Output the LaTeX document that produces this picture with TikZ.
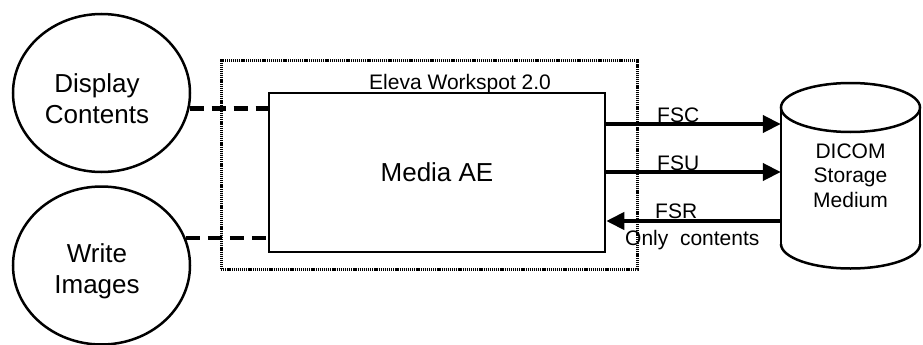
\documentclass[tikz,border=0pt]{standalone}
\usepackage{fontspec}
\setmainfont{Liberation Sans}
\usetikzlibrary{shapes.geometric,arrows.meta}
\begin{document}
\begin{tikzpicture}[x=1pt,y=-1pt,
  big/.style={font=\fontsize{26}{31}\selectfont},
  small/.style={font=\fontsize{21}{24.5}\selectfont},
  oval/.style={draw,ellipse,line width=2.5pt,minimum width=177pt,minimum height=158pt,inner sep=0pt},
  ovaltext/.style={big,align=center,inner sep=0pt},
  link/.style={line width=4.5pt,dash pattern=on 14pt off 8pt},
  flow/.style={line width=4pt,-{Triangle[length=18pt,width=17pt]}},
  lbl/.style={small,anchor=base west,inner sep=0pt}]
\useasboundingbox (0,0) rectangle (923,345);
% outer dotted box
\node[draw,line width=3pt,dash pattern=on 1.2pt off 0.9pt,minimum width=416pt,minimum height=208pt,inner sep=0pt] (ws) at (429,165) {};
\node[lbl] (wslbl) at (369,89) {Eleva Workspot 2.0};
% media box
\node[draw,line width=2.5pt,fill=white,minimum width=336pt,minimum height=159pt,inner sep=0pt] (media) at (437,172.5) {};
\node[big] (medialbl) at (437,172.5) {Media AE};
% ellipses
\node[oval] (disp) at (101.5,93) {};
\node[ovaltext] (disptext) at (97,99) {Display\\Contents};
\node[oval] (write) at (101.5,265.5) {};
\node[ovaltext] (writetext) at (97,271) {Write\\Images};
% cylinder
\begin{scope}
\clip (770,244) rectangle (930,280);
\draw[line width=2.5pt] (850.5,244) ellipse[x radius=69.5pt,y radius=24.5pt];
\end{scope}
\draw[line width=2.5pt] (781,107.5) -- (781,244);
\draw[line width=2.5pt] (920,107.5) -- (920,244);
\draw[line width=2.5pt] (850.5,107.5) ellipse[x radius=69.5pt,y radius=24.5pt];
\node[minimum width=139pt,minimum height=136.5pt,inner sep=0pt,align=center,font=\fontsize{21}{24.5}\selectfont] (db) at (850.5,175.75) {DICOM\\Storage\\Medium};
% dashed links
\draw[link] (disp.-10.5) -- (disp.-10.5 -| media.west);
\draw[link] (write.18.7) -- (write.18.7 -| media.west);
% flows
\coordinate (yfsc) at (0,124);
\coordinate (yfsu) at (0,172);
\coordinate (yfsr) at (0,221);
\draw[flow] (media.east |- yfsc) -- (db.west |- yfsc);
\draw[flow] (media.east |- yfsu) -- (db.west |- yfsu);
\draw[flow] (db.west |- yfsr) -- (media.east |- yfsr);
\node[lbl] (fsc) at (657,122) {FSC};
\node[lbl] (fsu) at (657,170.5) {FSU};
\node[lbl] (fsr) at (655,218) {FSR};
\node[lbl] (only) at (625,245) {Only\ \ contents};
\end{tikzpicture}
\end{document}
